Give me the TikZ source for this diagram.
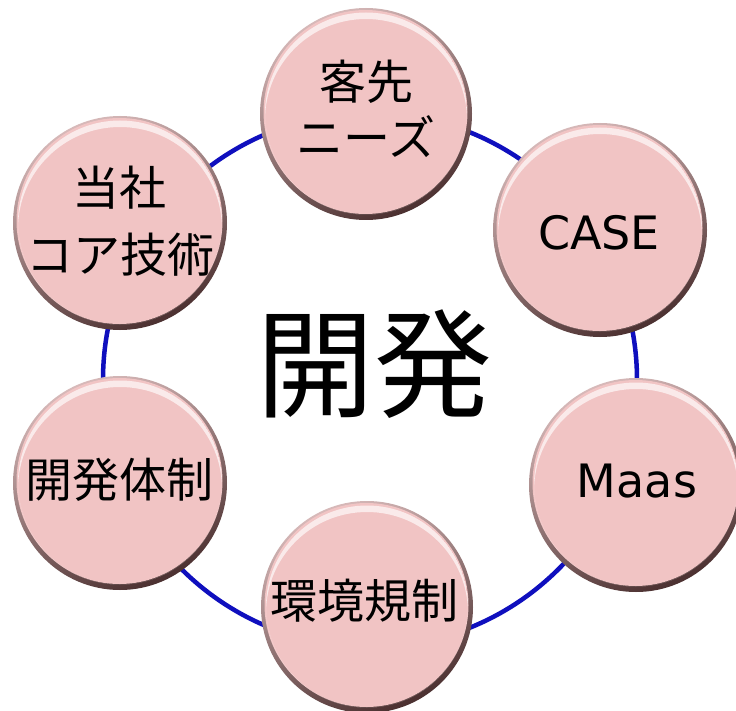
\documentclass[tikz,border=0pt]{standalone}
\usepackage{fontspec}
\newfontfamily\jp{Noto Sans CJK JP}
\newfontfamily\lat{DejaVu Sans}
\definecolor{bubpink}{RGB}{241,196,196}
\definecolor{bubedge}{RGB}{215,185,185}
\definecolor{bubdark}{RGB}{75,48,48}
\definecolor{ringblue}{RGB}{15,15,190}
\tikzset{
  bub/.style={circle, inner sep=0pt, minimum size=2*#1pt, draw=none,
    path picture={
      \coordinate (pc) at (path picture bounding box.center);
      \shade[top color=bubedge, bottom color=bubdark, shading angle=25] (pc) circle (#1pt);
      \fill[bubpink] ([xshift=-0.5pt, yshift=2pt]pc) circle ({#1pt-4pt});
      \begin{scope}
        \clip ([yshift=0.5pt]pc) circle ({#1pt-5pt});
        \fill[white, opacity=.65, even odd rule] ([yshift=0.5pt]pc) circle ({#1pt-5pt}) ([yshift=-6pt]pc) circle ({#1pt-5pt});
      \end{scope}
    }},
  jlbl/.style={inner sep=0pt, align=center, font=\jp\fontsize{47}{#1}\selectfont},
  llbl/.style={inner sep=0pt, font=\lat\fontsize{46}{52}\selectfont},
  ring/.style={draw=ringblue, line width=4.5pt}
}
\begin{document}
\begin{tikzpicture}[x=1pt, y=-1pt]
\useasboundingbox (0,0) rectangle (736,711);
\fill[white] (0,0) rectangle (736,711);
\coordinate (rc) at (370,380);
\draw[ring] (rc) circle (267pt);
% bubbles
\node[bub=106] (n1) at (366,114) {};
\node[bub=107] (n2) at (600,230) {};
\node[bub=107] (n3) at (636,485) {};
\node[bub=106] (n4) at (367,607) {};
\node[bub=107] (n5) at (120,483) {};
\node[bub=107] (n6) at (120,223) {};
% labels
\node[jlbl=56] (t1) at (366,109) {客先\\ニーズ};
\node[llbl] (t2) at (599,233) {CASE};
\node[llbl] (t3) at (637,481) {Maas};
\node[jlbl=56] (t4) at (364,601) {環境規制};
\node[jlbl=56] (t5) at (119,480) {開発体制};
\node[jlbl=67] (t6) at (120,221) {当社\\コア技術};
\node[inner sep=0pt, font=\jp\fontsize{118}{130}\selectfont] (c) at (374,364) {開発};
\end{tikzpicture}
\end{document}
